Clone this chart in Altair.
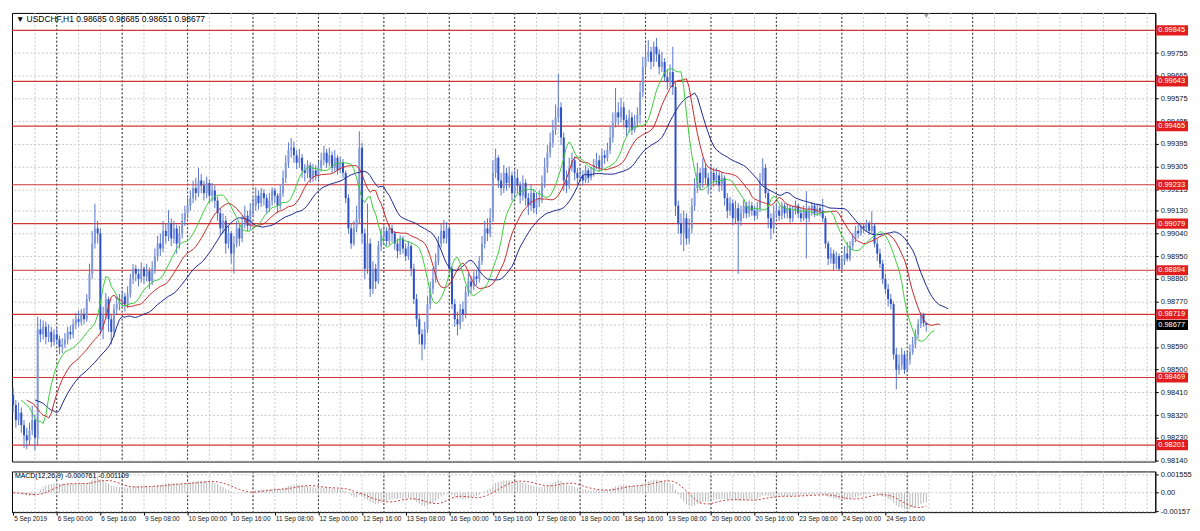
import altair as alt
import pandas as pd
import numpy as np

# ---------------- data (prices in points of 0.00001 above 0.98000) ----------------
BASE = 0.98
open_first = 400
close_pts = [
    360, 300, 330, 280, 240, 220, 260, 300, 230, 660, 640, 670,
    630, 650, 610, 640, 620, 590, 600, 620, 650, 640, 680, 700,
    690, 720, 700, 780, 880, 1000, 1060, 1040, 660, 720, 780, 700,
    650, 740, 760, 770, 790, 760, 800, 860, 900, 880, 860, 900,
    870, 890, 850, 900, 950, 1000, 980, 1050, 1030, 1080, 1020, 1060,
    1000, 1040, 1090, 1120, 1150, 1180, 1220, 1200, 1250, 1230, 1200, 1240,
    1190, 1210, 1170, 1120, 1060, 1090, 1000, 1040, 960, 1000, 1060, 1020,
    1080, 1110, 1070, 1130, 1150, 1190, 1160, 1200, 1180, 1140, 1170, 1210,
    1190, 1150, 1200, 1260, 1320, 1370, 1380, 1350, 1320, 1340, 1290, 1280,
    1310, 1260, 1290, 1270, 1300, 1330, 1360, 1320, 1350, 1300, 1340, 1290,
    1320, 1280, 1180, 1060, 1000, 1060, 1100, 1380, 1040, 900, 1000, 820,
    900, 850, 990, 1030, 1050, 1010, 1060, 1040, 1000, 970, 1020, 980,
    950, 990, 900, 780, 700, 640, 600, 660, 760, 820, 860, 930,
    1000, 1050, 1020, 1060, 900, 760, 700, 680, 740, 720, 810, 850,
    830, 870, 860, 930, 1000, 1060, 1040, 1100, 1280, 1340, 1250, 1220,
    1280, 1240, 1270, 1200, 1260, 1230, 1190, 1240, 1180, 1150, 1200, 1140,
    1170, 1180, 1240, 1300, 1360, 1400, 1450, 1500, 1540, 1420, 1250, 1230,
    1300, 1330, 1280, 1260, 1270, 1250, 1290, 1260, 1280, 1310, 1330, 1300,
    1350, 1340, 1370, 1420, 1480, 1520, 1500, 1540, 1490, 1460, 1500, 1450,
    1480, 1510, 1600, 1700, 1740, 1760, 1720, 1780, 1750, 1700, 1720, 1660,
    1640, 1680, 1620, 1150, 1080, 1040, 1100, 1020, 1060, 1150, 1220, 1280,
    1240, 1300, 1260, 1230, 1280, 1250, 1270, 1230, 1260, 1180, 1130, 1160,
    1100, 1140, 1090, 1120, 1150, 1120, 1150, 1130, 1110, 1140, 1250, 1300,
    1200, 1100, 1060, 1120, 1130, 1110, 1150, 1120, 1140, 1100, 1130, 1150,
    1120, 1100, 1130, 1100, 1130, 1150, 1120, 1140, 1130, 1100, 1000, 940,
    960, 920, 950, 900, 930, 960, 940, 990, 1020, 1050, 1040, 1070,
    1060, 1080, 1050, 1070, 1000, 960, 920, 860, 820, 780, 760, 560,
    500, 520, 560, 500, 540, 570, 600, 640, 680, 720, 685, 677,
]
high_pts = [
    430, 380, 370, 350, 300, 270, 290, 357, 320, 711, 700, 695,
    690, 680, 670, 660, 665, 635, 625, 645, 670, 675, 700, 725,
    735, 740, 745, 800, 920, 1050, 1158, 1090, 1060, 750, 804, 790,
    720, 760, 790, 800, 815, 805, 830, 880, 918, 915, 900, 925,
    910, 920, 905, 930, 980, 1030, 1040, 1090, 1080, 1132, 1100, 1090,
    1075, 1070, 1120, 1150, 1180, 1210, 1250, 1260, 1300, 1275, 1250, 1265,
    1255, 1240, 1230, 1185, 1140, 1120, 1110, 1070, 1050, 1030, 1090, 1080,
    1110, 1150, 1130, 1160, 1180, 1223, 1210, 1220, 1215, 1195, 1200, 1223,
    1220, 1200, 1230, 1290, 1350, 1400, 1418, 1405, 1370, 1375, 1355, 1315,
    1330, 1322, 1315, 1310, 1325, 1360, 1387, 1375, 1380, 1365, 1370, 1350,
    1345, 1335, 1290, 1195, 1080, 1090, 1150, 1445, 1400, 1060, 1158, 1020,
    930, 920, 1010, 1060, 1071, 1065, 1080, 1075, 1050, 1020, 1033, 1030,
    1000, 1010, 1000, 920, 800, 720, 660, 690, 790, 850, 903, 960,
    1030, 1080, 1094, 1085, 1070, 910, 780, 730, 760, 770, 830, 880,
    870, 890, 895, 950, 1030, 1090, 1100, 1140, 1330, 1376, 1350, 1280,
    1311, 1300, 1305, 1285, 1290, 1295, 1245, 1270, 1255, 1200, 1235, 1215,
    1200, 1210, 1270, 1340, 1390, 1440, 1490, 1551, 1673, 1560, 1440, 1290,
    1340, 1361, 1345, 1300, 1300, 1290, 1310, 1300, 1305, 1335, 1360, 1350,
    1376, 1370, 1400, 1464, 1520, 1616, 1560, 1578, 1560, 1510, 1530, 1520,
    1510, 1540, 1640, 1740, 1790, 1807, 1780, 1800, 1815, 1770, 1760, 1735,
    1690, 1710, 1780, 1640, 1170, 1120, 1130, 1120, 1100, 1180, 1260, 1320,
    1300, 1338, 1320, 1280, 1310, 1300, 1300, 1290, 1285, 1270, 1200, 1185,
    1175, 1170, 1160, 1150, 1175, 1165, 1170, 1165, 1150, 1165, 1280, 1338,
    1315, 1215, 1120, 1150, 1158, 1150, 1165, 1160, 1158, 1150, 1150, 1170,
    1158, 1140, 1150, 1208, 1150, 1165, 1160, 1158, 1155, 1178, 1110, 1010,
    985, 975, 968, 960, 950, 990, 1006, 1010, 1040, 1070, 1075, 1082,
    1080, 1095, 1090, 1128, 1080, 1020, 980, 935, 880, 840, 800, 770,
    586, 560, 586, 575, 570, 600, 630, 660, 700, 727, 725, 685,
]
low_pts = [
    330, 270, 280, 250, 190, 185, 200, 240, 180, 200, 610, 620,
    600, 610, 590, 595, 600, 560, 565, 585, 600, 620, 625, 660,
    670, 675, 680, 690, 770, 860, 980, 1000, 640, 620, 700, 650,
    600, 630, 720, 735, 750, 730, 745, 785, 840, 850, 830, 845,
    840, 850, 820, 835, 880, 930, 950, 965, 1000, 1010, 990, 1000,
    960, 980, 1020, 1070, 1100, 1130, 1160, 1170, 1185, 1200, 1170, 1180,
    1160, 1165, 1140, 1090, 1030, 1040, 960, 980, 920, 880, 985, 990,
    1005, 1060, 1050, 1055, 1110, 1130, 1135, 1145, 1150, 1120, 1125, 1150,
    1160, 1120, 1135, 1185, 1240, 1300, 1340, 1320, 1295, 1300, 1260, 1246,
    1260, 1240, 1245, 1250, 1255, 1285, 1310, 1300, 1305, 1280, 1285, 1273,
    1280, 1260, 1160, 1040, 979, 990, 1045, 1080, 1000, 860, 880, 788,
    800, 820, 840, 970, 1010, 990, 995, 1006, 975, 941, 955, 960,
    930, 935, 870, 760, 670, 600, 537, 580, 645, 740, 800, 845,
    915, 985, 1000, 1000, 880, 740, 670, 636, 660, 690, 705, 790,
    804, 815, 835, 845, 915, 980, 1010, 1025, 1085, 1260, 1220, 1190,
    1200, 1210, 1220, 1170, 1180, 1200, 1158, 1170, 1150, 1113, 1130, 1120,
    1115, 1145, 1160, 1220, 1280, 1340, 1380, 1430, 1480, 1390, 1208, 1200,
    1215, 1285, 1250, 1235, 1246, 1230, 1240, 1240, 1250, 1265, 1295, 1285,
    1290, 1315, 1325, 1355, 1400, 1460, 1470, 1480, 1460, 1426, 1440, 1430,
    1440, 1460, 1475, 1580, 1680, 1720, 1690, 1700, 1720, 1670, 1680, 1643,
    1610, 1620, 1589, 1109, 1040, 994, 970, 995, 1000, 1040, 1130, 1200,
    1210, 1220, 1235, 1195, 1215, 1225, 1235, 1205, 1210, 1150, 1100, 1110,
    1071, 1080, 880, 1070, 1100, 1100, 1105, 1110, 1090, 1095, 1125, 1230,
    1180, 1060, 1017, 1040, 1100, 1090, 1095, 1100, 1100, 1082, 1085, 1115,
    1100, 1085, 1090, 941, 1085, 1110, 1105, 1109, 1110, 1085, 980, 915,
    920, 895, 900, 891, 890, 915, 929, 930, 975, 1005, 1020, 1030,
    1040, 1045, 1033, 1040, 985, 930, 903, 840, 800, 750, 739, 540,
    422, 480, 500, 483, 490, 520, 559, 585, 625, 665, 670, 651,
]
assert len(close_pts) == len(high_pts) == len(low_pts) == 336

level_prices = [0.99845, 0.99643, 0.99465, 0.99233, 0.99079, 0.98894, 0.98719, 0.98469, 0.98201]
bid_price = [0.98677]
price_ticks = [0.98140, 0.98230, 0.98320, 0.98410, 0.98500, 0.98590, 0.98680, 0.98770,
               0.98860, 0.98950, 0.99040, 0.99130, 0.99215, 0.99305, 0.99395, 0.99485,
               0.99575, 0.99665, 0.99755]
x_tick_idx = [0, 16, 32, 48, 64, 80, 96, 112, 128, 144, 160, 176, 192, 208, 224, 240,
              256, 272, 288, 304, 320]
x_tick_labels = ["5 Sep 2019", "6 Sep 00:00", "6 Sep 16:00", "9 Sep 08:00", "10 Sep 00:00",
                 "10 Sep 16:00", "11 Sep 08:00", "12 Sep 00:00", "12 Sep 16:00", "13 Sep 08:00",
                 "16 Sep 00:00", "16 Sep 16:00", "17 Sep 08:00", "18 Sep 00:00", "18 Sep 16:00",
                 "19 Sep 08:00", "20 Sep 00:00", "20 Sep 16:00", "23 Sep 08:00", "24 Sep 00:00",
                 "24 Sep 16:00"]
grid_idx = list(range(8, 424, 8))          # light dotted grid every 8 bars
day_sep_idx = list(range(16, 353, 24))     # period separators (day starts)
macd_ticks = [-0.00157, 0.0, 0.001555]
title_text = "\u25bc USDCHF,H1  0.98685 0.98685 0.98651 0.98677"
macd_text = "MACD(12,26,9) -0.000761 -0.001109"

# ---------------- frames ----------------
n = len(close_pts)
opens = [open_first] + close_pts[:-1]
bars = pd.DataFrame({
    "i": np.arange(n),
    "o": BASE + np.array(opens) / 1e5,
    "h": BASE + np.array(high_pts) / 1e5,
    "l": BASE + np.array(low_pts) / 1e5,
    "c": BASE + np.array(close_pts) / 1e5,
})
bars["up"] = bars["c"] >= bars["o"]

# Alligator (SMMA of median price, shifted)
med = (bars["h"] + bars["l"]) / 2
def smma(period, shift):
    v = med.ewm(alpha=1.0 / period, adjust=False).mean()
    return pd.DataFrame({"x": bars["i"] + shift, "v": v})
jaw = smma(13, 8)
teeth = smma(8, 5)
lips = smma(5, 3)

# MACD(12,26,9)
ema12 = bars["c"].ewm(span=12, adjust=False).mean()
ema26 = bars["c"].ewm(span=26, adjust=False).mean()
main_line = ema12 - ema26
signal = main_line.rolling(9, min_periods=1).mean()
macd_df = pd.DataFrame({"i": bars["i"], "m": main_line, "s": signal, "z": 0.0})

lev_df = pd.DataFrame({"p": level_prices})
bid_df = pd.DataFrame({"p": bid_price})
grid_df = pd.DataFrame({"g": grid_idx})
sep_df = pd.DataFrame({"g": day_sep_idx})
xlab_df = pd.DataFrame({"i": x_tick_idx, "t": x_tick_labels})
title_df = pd.DataFrame({"t": [title_text]})
macd_lab_df = pd.DataFrame({"t": [macd_text]})
marker_df = pd.DataFrame({"i": [n - 1]})

# ---------------- layout / styles ----------------
W, HM, HD = 1152, 452, 41
FONT = "Liberation Sans"
GRID = "#c8c8c8"
xs = alt.Scale(domain=[-0.43, 419.0], nice=False, zero=False)
ys = alt.Scale(domain=[0.98136, 0.99914], nice=False, zero=False)
ds = alt.Scale(domain=[-0.00165, 0.0018], nice=False, zero=False)

yaxis = alt.Axis(orient="right", values=price_ticks, title=None,
                 labelExpr="abs(datum.value - 0.9868) < 0.000001 ? '' : format(datum.value, '.5f')",
                 labelFontSize=7.5, labelFont=FONT, labelColor="#111", tickSize=3,
                 tickColor="#000", domainColor="#000", grid=True, gridColor=GRID,
                 gridDash=[2, 2], gridWidth=1, labelPadding=2, labelOverlap=False)
daxis = alt.Axis(orient="right", values=macd_ticks, title=None,
                 labelExpr="datum.value > 0.001 ? '0.001555' : (datum.value < -0.001 ? '-0.00157' : '0.00')",
                 labelFontSize=7.5, labelFont=FONT, labelColor="#111", tickSize=3,
                 tickColor="#000", domainColor="#000", grid=True, gridColor=GRID,
                 gridDash=[2, 2], labelPadding=2, labelOverlap=False)
xaxis = alt.Axis(values=x_tick_idx, labels=False, ticks=True, tickSize=3, tickColor="#000",
                 domain=False, grid=False, title=None)

def X0(f):
    return alt.X(f"{f}:Q", scale=xs, axis=None)

BOX = "M-1,-0.32L1,-0.32L1,0.32L-1,0.32Z"

vgrid = alt.Chart(grid_df).mark_rule(color=GRID, strokeDash=[2, 2], strokeWidth=1).encode(x=X0("g"))
seps = alt.Chart(sep_df).mark_rule(color="#333333", strokeDash=[2, 2], strokeWidth=1).encode(x=X0("g"))
levels = alt.Chart(lev_df).mark_rule(color="#d03636", strokeWidth=1.2).encode(
    y=alt.Y("p:Q", scale=ys, axis=yaxis))
wick = alt.Chart(bars).mark_rule(color="#5a76cf", strokeWidth=1).encode(
    x=X0("i"), y=alt.Y("l:Q", scale=ys, axis=yaxis), y2="h:Q")
body_up = alt.Chart(bars).transform_filter("datum.up").mark_rule(
    color="#7f98dc", strokeWidth=2).encode(x=X0("i"), y=alt.Y("o:Q", scale=ys, axis=yaxis), y2="c:Q")
body_dn = alt.Chart(bars).transform_filter("!datum.up").mark_rule(
    color="#2d50c4", strokeWidth=2).encode(x=X0("i"), y=alt.Y("o:Q", scale=ys, axis=yaxis), y2="c:Q")

def ma_layer(df, col):
    return alt.Chart(df).mark_line(color=col, strokeWidth=1).encode(
        x=X0("x"), y=alt.Y("v:Q", scale=ys, axis=yaxis))

jaw_l = ma_layer(jaw, "#1c2690")
teeth_l = ma_layer(teeth, "#c82a2a")
lips_l = ma_layer(lips, "#3ccc3c")

box = alt.Chart(lev_df).mark_point(shape=BOX, size=1024, filled=True, opacity=1,
                                   color="#e11d1d", strokeWidth=0).encode(
    x=alt.value(W + 17), y=alt.Y("p:Q", scale=ys, axis=yaxis))
box_t = alt.Chart(lev_df).mark_text(align="left", baseline="middle", color="#ffffff",
                                    fontSize=7.5, font=FONT).encode(
    x=alt.value(W + 3), y=alt.Y("p:Q", scale=ys, axis=yaxis), text=alt.Text("p:Q", format=".5f"))
bid_b = alt.Chart(bid_df).mark_point(shape=BOX, size=1024, filled=True, opacity=1,
                                     color="#000000", strokeWidth=0).encode(
    x=alt.value(W + 17), y=alt.Y("p:Q", scale=ys, axis=yaxis))
bid_t = alt.Chart(bid_df).mark_text(align="left", baseline="middle", color="#ffffff",
                                    fontSize=7.5, font=FONT).encode(
    x=alt.value(W + 3), y=alt.Y("p:Q", scale=ys, axis=yaxis), text=alt.Text("p:Q", format=".5f"))
title = alt.Chart(title_df).mark_text(align="left", baseline="middle", fontSize=8.5, font=FONT,
                                      color="#000").encode(x=alt.value(4), y=alt.value(6), text="t:N")
marker = alt.Chart(marker_df).mark_point(shape="triangle-down", filled=True, color="#a0a0a0",
                                         size=25, opacity=1).encode(x=X0("i"), y=alt.value(3))

main = alt.layer(vgrid, seps, levels, wick, body_up, body_dn, jaw_l, teeth_l, lips_l,
                 box, box_t, bid_b, bid_t, title, marker).properties(width=W, height=HM)

def XA(f):
    return alt.X(f"{f}:Q", scale=xs, axis=xaxis)

m_vgrid = alt.Chart(grid_df).mark_rule(color=GRID, strokeDash=[2, 2], strokeWidth=1).encode(x=XA("g"))
m_seps = alt.Chart(sep_df).mark_rule(color="#333333", strokeDash=[2, 2], strokeWidth=1).encode(x=XA("g"))
hist = alt.Chart(macd_df).mark_rule(color="#b8b8b8", strokeWidth=1, clip=True).encode(
    x=XA("i"), y=alt.Y("z:Q", scale=ds, axis=daxis), y2="m:Q")
sig = alt.Chart(macd_df).mark_line(color="#cc3838", strokeDash=[2, 2], strokeWidth=1, clip=True).encode(
    x=XA("i"), y=alt.Y("s:Q", scale=ds, axis=daxis))
m_lab = alt.Chart(macd_lab_df).mark_text(align="left", baseline="middle", fontSize=7, font=FONT,
                                         color="#000").encode(x=alt.value(3), y=alt.value(5), text="t:N")
x_lab = alt.Chart(xlab_df).mark_text(align="left", baseline="top", fontSize=6.5, font=FONT,
                                     color="#111", dx=1).encode(x=XA("i"), y=alt.value(HD + 4), text="t:N")

macd = alt.layer(m_vgrid, m_seps, hist, sig, m_lab, x_lab).properties(width=W, height=HD)

chart = alt.vconcat(main, macd, spacing=5).properties(
    padding={"left": 2, "top": 2, "right": 0, "bottom": 0}, background="#ffffff"
).configure_view(stroke="#000000", strokeWidth=1)

chart.save("out.html", embed_options={"renderer": "svg", "actions": False})
